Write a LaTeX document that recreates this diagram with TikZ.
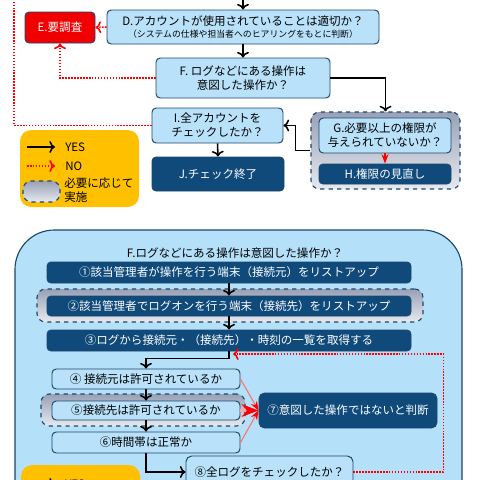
\documentclass[tikz,border=0pt]{standalone}
\usepackage{fontspec}
\setmainfont{Noto Sans CJK JP}
\usetikzlibrary{%
  arrows,
  arrows.meta,
  calc
}

\definecolor{boxblue}{HTML}{B9E2FA}
\definecolor{panelblue}{HTML}{B5E0FA}
\definecolor{deepblue}{HTML}{0F4A7B}
\definecolor{edgeblue}{HTML}{1E4669}
\definecolor{alertred}{HTML}{F00000}
\definecolor{legorange}{HTML}{FFC000}
\definecolor{grpgray}{HTML}{98A1B6}
\definecolor{grplight}{HTML}{E6E9EF}

\begin{document}
\begin{tikzpicture}[x=0.025cm, y=-0.025cm,
    sz/.style 2 args={minimum width=#1*0.025cm, minimum height=#2*0.025cm},
    base/.style={draw=edgeblue, line width=0.7pt, rounded corners=3pt, inner sep=0pt,
      align=center, font=\fontsize{8.2}{10}\selectfont},
    qbox/.style={base, fill=boxblue, text=black},
    dbox/.style={base, fill=deepblue, text=white},
    optgrp/.style={draw=edgeblue, dashed, line width=0.8pt, rounded corners=6pt,
      top color=grpgray, bottom color=grplight},
    legbox/.style={fill=legorange, rounded corners=8pt},
    txt/.style={inner sep=0pt, font=\fontsize{8.2}{10}\selectfont},
    yes/.style={->, black, line width=1.1pt},
    no/.style={->, red, densely dotted, line width=1.1pt},
    ng/.style={-{Stealth[red]}, red!55, line width=0.8pt}
  ]
    \useasboundingbox (0,0) rectangle (480,480);
    \clip (0,0) rectangle (480,480);

    % upper flow
    \coordinate (topyes) at (243,-12);
    \coordinate (topno) at (14,-12);
    \node[qbox, sz={272}{34}] (D) at (243,27) {D.アカウントが使用されていることは適切か？\\[-2pt]
      {\fontsize{6.3}{7}\selectfont （システムの仕様や担当者へのヒアリングをもとに判断）}};
    \node[dbox, fill=alertred, sz={70}{31}] (E) at (60,27.5) {E.要調査};
    \node[qbox, sz={174}{40}] (F) at (243,78) {F. ログなどにある操作は\\意図した操作か？};
    \node[qbox, sz={131}{35}] (I) at (217.5,125.5) {I.全アカウントを\\チェックしたか？};
    \node[dbox, sz={132}{34}] (J) at (218,174) {J.チェック終了};
    \node[optgrp, sz={149}{77}] (Ggrp) at (385.5,150.5) {};
    \node[qbox, sz={132}{35}] (G) at (385,135.5) {G.必要以上の権限が\\与えられていないか？};
    \node[dbox, sz={132}{20}] (H) at (385,174) {H.権限の見直し};

    \draw[yes] (topyes) -- (D.north);
    \draw[no] (D.west) -- (E.east);
    \draw[yes] (D.south) -- (F.north);
    \draw[no] (F.west) -| (E.south);
    \draw[yes] (F.east) -| (Ggrp.north);
    \draw[-{Stealth[red]}, red, line width=0.8pt] (G.south) -- (H.north);
    \draw[yes] (Ggrp.west) -- ++(-15,0) |- (I.east);
    \draw[yes] (I.south) -- (J.north);
    \draw[red, densely dotted, line width=1.1pt] (I.west) -| (topno);

    % legend
    \node[legbox, sz={119}{77}] (leg) at (79.5,168.5) {};
    \foreach \y/\s/\t in {147/yes/YES,166/no/NO} {
        \coordinate (leg\s a) at (27,\y);
        \coordinate (leg\s b) at (55,\y);
        \draw[\s] (leg\s a) -- (leg\s b);
        \node[txt, anchor=west] (leg\s t) at (65,\y) {\t};
    }
    \node[optgrp, sz={37}{21}] (legopt) at (41.5,191.5) {};
    \node[txt, anchor=west, align=left] (legoptt) at (64,190) {必要に応じて\\実施};

    % lower panel
    \node[draw=edgeblue, line width=0.8pt, fill=panelblue, rounded corners=28pt, sz={447}{300}] (panel) at (238.5,380) {};
    \node[txt] (ftitle) at (235,253) {F.ログなどにある操作は意図した操作か？};
    \node[dbox, sz={364}{21}] (n1) at (229,272.5) {①該当管理者が操作を行う端末（接続元）をリストアップ};
    \node[optgrp, sz={386}{33}] (g2) at (230,305.5) {};
    \node[dbox, sz={364}{20}] (n2) at (229,306) {②該当管理者でログオンを行う端末（接続先）をリストアップ};
    \node[dbox, sz={364}{21}] (n3) at (229,340.5) {③ログから接続元・（接続先）・時刻の一覧を取得する};
    \node[qbox, sz={188}{20}] (n4) at (146,379) {④ 接続元は許可されているか};
    \node[optgrp, sz={204}{32}] (g5) at (143,410) {};
    \node[qbox, sz={188}{19}] (n5) at (146,410.5) {⑤接続先は許可されているか};
    \node[qbox, sz={188}{21}] (n6) at (146,442.5) {⑥時間帯は正常か};
    \node[dbox, sz={178}{35}, rounded corners=4pt] (n7) at (348,410.5) {⑦意図した操作ではないと判断};
    \node[qbox, sz={167}{32}, rounded corners=4pt] (n8) at (269.5,472) {⑧全ログをチェックしたか？};
    \coordinate (loopin) at (233,354);

    \draw[yes] (n1.south) -- (n2.north);
    \draw[yes] (n2.south) -- (n3.north);
    \draw[yes] (n3.south) -- ++(0,7) -| (n4.north);
    \draw[yes] (n4.south) -- (n5.north);
    \draw[yes] (n5.south) -- (n6.north);
    \draw[yes] (n6.south) |- (n8.west);
    \draw[ng] (n4.east) -- (n7.west);
    \draw[ng, line width=2pt, red!35] (n5.east) -- (n7.west);
    \draw[ng] (n6.east) -- (n7.west);
    \draw[no] (n8.east) -- ++(90,0) |- (loopin);

    % lower legend
    \node[legbox, sz={119}{80}] (leg2) at (80.5,505) {};
    \coordinate (leg2a) at (27,484);
    \coordinate (leg2b) at (55,484);
    \draw[yes] (leg2a) -- (leg2b);
    \node[txt, anchor=west] (leg2t) at (65,484) {YES};
\end{tikzpicture}
\end{document}
